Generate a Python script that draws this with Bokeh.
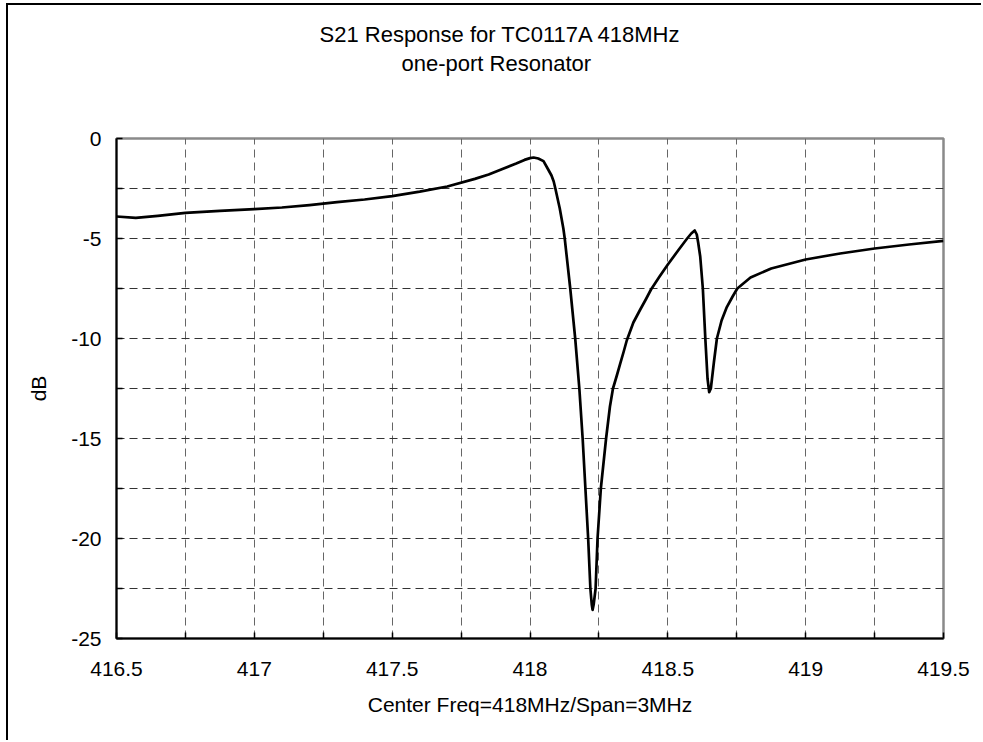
from bokeh.plotting import figure
from bokeh.models import FixedTicker, Title
from bokeh.embed import file_html
from bokeh.resources import INLINE

# ---- data ----
freq_mhz = [416.5, 416.57, 416.65, 416.75, 416.875, 417.0, 417.1, 417.2, 417.3, 417.4,
            417.5, 417.6, 417.7, 417.8, 417.85, 417.9, 417.95, 417.98, 418.0, 418.013,
            418.03, 418.049, 418.066, 418.078, 418.086, 418.092, 418.108, 418.121,
            418.126, 418.146, 418.164, 418.179, 418.191, 418.201, 418.211,
            418.219, 418.224, 418.227, 418.231, 418.238, 418.245, 418.257, 418.276, 418.29,
            418.301, 418.315, 418.327, 418.34, 418.351, 418.375, 418.40, 418.42, 418.439,
            418.47, 418.5, 418.54, 418.57, 418.585, 418.5975, 418.605, 418.61, 418.6175,
            418.627, 418.636, 418.644, 418.650, 418.656, 418.667, 418.678, 418.695, 418.714,
            418.735, 418.752, 418.8, 418.875, 419.0, 419.125, 419.25, 419.375, 419.5]
s21_db = [-3.9, -3.97, -3.87, -3.72, -3.62, -3.53, -3.45, -3.33, -3.18, -3.05,
          -2.88, -2.66, -2.4, -2.02, -1.8, -1.52, -1.25, -1.07, -0.98, -0.95,
          -1.0, -1.13, -1.55, -1.85, -2.15, -2.5, -3.5, -4.5,
          -5.0, -7.5, -10.0, -12.5, -15.0, -17.5, -20.0,
          -22.5, -23.3, -23.57, -23.3, -22.5, -20.0, -17.5, -15.0, -13.4,
          -12.5, -11.85, -11.27, -10.65, -10.1, -9.2, -8.55, -8.05, -7.55,
          -6.9, -6.3, -5.55, -5.0, -4.75, -4.6, -4.8, -5.2, -5.9,
          -7.5, -10.0, -12.0, -12.68, -12.5, -11.2, -10.0, -9.1, -8.43,
          -7.9, -7.5, -6.95, -6.5, -6.05, -5.75, -5.5, -5.3, -5.12]

x_major_ticks = [416.5, 417.0, 417.5, 418.0, 418.5, 419.0, 419.5]
x_tick_labels = ["416.5", "417", "417.5", "418", "418.5", "419", "419.5"]
x_grid_ticks = [416.5, 416.75, 417.0, 417.25, 417.5, 417.75, 418.0, 418.25,
                418.5, 418.75, 419.0, 419.25, 419.5]
y_major_ticks = [-25, -20, -15, -10, -5, 0]
y_tick_labels = ["-25", "-20", "-15", "-10", "-5", "0"]
y_grid_ticks = [-25, -22.5, -20, -17.5, -15, -12.5, -10, -7.5, -5, -2.5, 0]

title_lines = ["S21 Response for TC0117A 418MHz", "one-port Resonator"]
x_label = "Center Freq=418MHz/Span=3MHz"
y_label = "dB"

FONT = "Liberation Sans"

p = figure(width=975, height=737, output_backend="svg", toolbar_location=None,
           x_range=(416.5, 419.5), y_range=(-25, 0), title=None,
           min_border_left=108, min_border_right=40, min_border_top=133,
           min_border_bottom=104)
p.styles = {"border-left": "2px solid black", "border-top": "2px solid black",
            "margin-left": "6px", "margin-top": "3px"}
p.background_fill_color = "white"
p.border_fill_color = "white"
p.outline_line_color = "#8a8a8a"
p.outline_line_width = 2.5

# axes
for ax in (p.xaxis[0], p.yaxis[0]):
    ax.axis_line_color = "black"
    ax.axis_line_width = 2
    ax.major_tick_in = 6
    ax.major_tick_out = 0
    ax.minor_tick_in = 6
    ax.minor_tick_out = 0
    ax.major_tick_line_color = "black"
    ax.minor_tick_line_color = "black"
    ax.major_tick_line_width = 1.5
    ax.minor_tick_line_width = 1.5
    ax.major_label_text_font = FONT
    ax.major_label_text_font_size = "21px"
    ax.major_label_text_color = "black"
    ax.axis_label_text_font = FONT
    ax.axis_label_text_font_size = "21px"
    ax.axis_label_text_font_style = "normal"
    ax.axis_label_text_color = "black"

p.xaxis.ticker = FixedTicker(ticks=x_major_ticks,
                             minor_ticks=[t for t in x_grid_ticks if t not in x_major_ticks])
p.yaxis.ticker = FixedTicker(ticks=y_major_ticks,
                             minor_ticks=[t for t in y_grid_ticks if t not in y_major_ticks])
p.xaxis.major_label_overrides = dict(zip(x_major_ticks, x_tick_labels))
p.yaxis.major_label_overrides = dict(zip(y_major_ticks, y_tick_labels))
p.xaxis.axis_label = x_label
p.yaxis.axis_label = y_label
p.xaxis.major_label_standoff = 23
p.xaxis.axis_label_standoff = 14
p.yaxis.major_label_standoff = 15
p.yaxis.axis_label_standoff = 18

# grid
p.xgrid.ticker = FixedTicker(ticks=x_grid_ticks)
p.ygrid.ticker = FixedTicker(ticks=y_grid_ticks)
p.xgrid.grid_line_color = "#666666"
p.ygrid.grid_line_color = "#333333"
p.xgrid.grid_line_width = 1
p.ygrid.grid_line_width = 1
p.xgrid.grid_line_dash = "8 5"
p.ygrid.grid_line_dash = "8 5"

# data line
p.line(freq_mhz, s21_db, line_color="black", line_width=2.7, line_join="round")

# title lines: a thin spacer closest to the plot, then line 2, then line 1
spacer = Title(text=" ", standoff=60, text_font=FONT, text_font_size="1px",
               text_color="white")
t2 = Title(text=title_lines[1], align="left", offset=285, standoff=0,
           vertical_align="bottom",
           text_font=FONT, text_font_size="22px", text_font_style="normal",
           text_color="black")
t1 = Title(text=title_lines[0], align="left", offset=203, standoff=3,
           vertical_align="bottom",
           text_font=FONT, text_font_size="22px", text_font_style="normal",
           text_color="black")
p.add_layout(spacer, "above")
p.add_layout(t2, "above")
p.add_layout(t1, "above")

open("out.html", "w").write(file_html(p, INLINE))
